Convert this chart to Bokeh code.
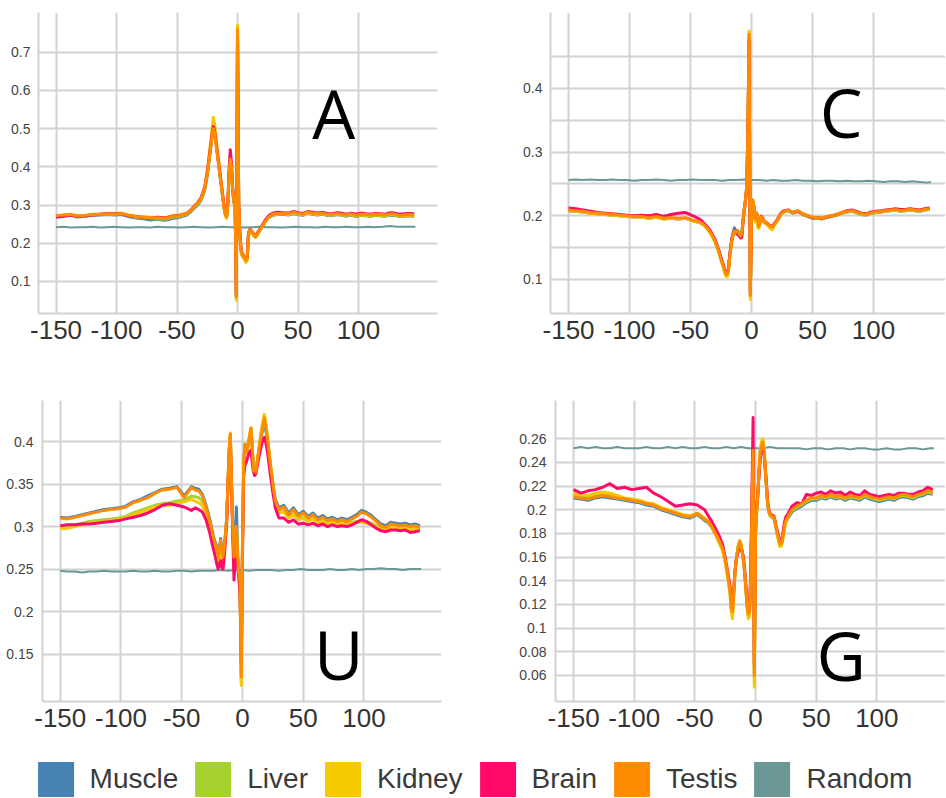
from bokeh.plotting import figure
from bokeh.layouts import column, row
from bokeh.models import FixedTicker, Label, Legend, LegendItem, Range1d
from bokeh.core.properties import value
from bokeh.embed import file_html
from bokeh.resources import INLINE

# ---------------- data ----------------
SERIES = ["Muscle", "Liver", "Kidney", "Brain", "Testis", "Random"]
COLORS = ["#4682b4", "#a6d22e", "#f5c800", "#ff0a6a", "#ff8c00", "#6b9796"]

POS_LEFT = [-150, -144, -138, -132, -126, -120, -114, -108, -102, -96, -90, -84,
            -78, -72, -66, -60, -54, -48, -42, -39, -36, -33, -30, -27]
POS_MID = list(range(-25, 26))
POS_RIGHT = [27, 30, 34, 38, 42, 46, 50, 54, 58, 62, 66, 70, 74, 78, 82, 86, 90,
             94, 98, 102, 106, 110, 114, 118, 122, 126, 130, 134, 138, 142, 146]
POS = POS_LEFT + POS_MID + POS_RIGHT
RPOS = list(range(-150, 145, 6)) + [147]

X_TICKS = [-150, -100, -50, 0, 50, 100]
X_LABELS = ["-150", "-100", "-50", "0", "50", "100"]
A_Y_TICKS = [0.1, 0.2, 0.3, 0.4, 0.5, 0.6, 0.7]
A_Y_LABELS = ["0.1", "0.2", "0.3", "0.4", "0.5", "0.6", "0.7"]
C_Y_TICKS = [0.1, 0.2, 0.3, 0.4]
C_Y_LABELS = ["0.1", "0.2", "0.3", "0.4"]
C_Y_GRID = [0.1, 0.15, 0.2, 0.25, 0.3, 0.35, 0.4, 0.45]
U_Y_TICKS = [0.15, 0.2, 0.25, 0.3, 0.35, 0.4]
U_Y_LABELS = ["0.15", "0.2", "0.25", "0.3", "0.35", "0.4"]
G_Y_TICKS = [0.06, 0.08, 0.1, 0.12, 0.14, 0.16, 0.18, 0.2, 0.22, 0.24, 0.26]
G_Y_LABELS = ["0.06", "0.08", "0.1", "0.12", "0.14", "0.16", "0.18", "0.2", "0.22", "0.24", "0.26"]

# ---- Panel A ----
A_MUSCLE = ([0.270, 0.272, 0.273, 0.269, 0.271, 0.273, 0.274, 0.275, 0.274, 0.275, 0.270, 0.266,
             0.264, 0.261, 0.263, 0.260, 0.265, 0.268, 0.274, 0.281, 0.291, 0.300, 0.313, 0.340]
            + [0.378, 0.403, 0.430, 0.455, 0.480, 0.505, 0.495, 0.470, 0.444, 0.418, 0.392, 0.366, 0.340,
               0.314, 0.290, 0.274, 0.268, 0.300, 0.378, 0.418, 0.396, 0.336, 0.306, 0.306, 0.058,
               0.760,
               0.298, 0.218, 0.178, 0.168, 0.165, 0.158, 0.153, 0.158, 0.218, 0.233, 0.232, 0.228, 0.223,
               0.218, 0.216, 0.220, 0.226, 0.231, 0.236, 0.241, 0.246, 0.251, 0.256, 0.261, 0.265]
            + [0.269, 0.274, 0.275, 0.276, 0.274, 0.277, 0.275, 0.273, 0.278, 0.276, 0.274, 0.276, 0.273,
               0.272, 0.275, 0.273, 0.271, 0.274, 0.270, 0.273, 0.272, 0.271, 0.273, 0.272, 0.271, 0.274,
               0.273, 0.270, 0.271, 0.272, 0.271])
A_LIVER = ([0.270, 0.273, 0.274, 0.270, 0.272, 0.274, 0.275, 0.276, 0.275, 0.277, 0.272, 0.268,
            0.266, 0.264, 0.265, 0.263, 0.268, 0.270, 0.276, 0.283, 0.293, 0.302, 0.315, 0.342]
           + [0.382, 0.408, 0.435, 0.460, 0.488, 0.512, 0.500, 0.475, 0.448, 0.422, 0.395, 0.368, 0.342,
              0.316, 0.290, 0.274, 0.268, 0.302, 0.380, 0.420, 0.398, 0.338, 0.308, 0.308, 0.055,
              0.765,
              0.298, 0.218, 0.178, 0.168, 0.165, 0.158, 0.153, 0.158, 0.218, 0.234, 0.233, 0.229, 0.224,
              0.219, 0.217, 0.221, 0.227, 0.232, 0.237, 0.242, 0.247, 0.252, 0.257, 0.262, 0.266]
           + [0.270, 0.275, 0.276, 0.277, 0.275, 0.279, 0.276, 0.274, 0.279, 0.277, 0.275, 0.277, 0.274,
              0.273, 0.276, 0.274, 0.272, 0.275, 0.271, 0.274, 0.273, 0.272, 0.274, 0.273, 0.272, 0.275,
              0.274, 0.271, 0.272, 0.273, 0.272])
A_KIDNEY = ([0.271, 0.274, 0.276, 0.272, 0.273, 0.276, 0.275, 0.277, 0.277, 0.279, 0.274, 0.271,
             0.270, 0.268, 0.268, 0.266, 0.272, 0.274, 0.278, 0.285, 0.295, 0.305, 0.318, 0.348]
            + [0.390, 0.415, 0.445, 0.470, 0.500, 0.530, 0.515, 0.485, 0.455, 0.430, 0.400, 0.370, 0.345,
               0.318, 0.290, 0.272, 0.265, 0.300, 0.375, 0.415, 0.395, 0.335, 0.305, 0.305, 0.050,
               0.770,
               0.295, 0.215, 0.175, 0.165, 0.162, 0.155, 0.150, 0.155, 0.215, 0.232, 0.232, 0.228, 0.222,
               0.217, 0.215, 0.220, 0.226, 0.231, 0.236, 0.242, 0.247, 0.252, 0.257, 0.262, 0.266]
            + [0.271, 0.276, 0.277, 0.278, 0.276, 0.280, 0.277, 0.275, 0.280, 0.278, 0.276, 0.278, 0.275,
               0.274, 0.277, 0.275, 0.273, 0.276, 0.272, 0.275, 0.274, 0.273, 0.275, 0.274, 0.273, 0.276,
               0.275, 0.272, 0.273, 0.274, 0.273])
A_BRAIN = ([0.268, 0.271, 0.273, 0.270, 0.272, 0.274, 0.276, 0.278, 0.277, 0.277, 0.272, 0.270,
            0.267, 0.265, 0.268, 0.266, 0.271, 0.273, 0.278, 0.286, 0.296, 0.306, 0.320, 0.348]
           + [0.385, 0.410, 0.435, 0.460, 0.485, 0.505, 0.495, 0.470, 0.445, 0.420, 0.395, 0.370, 0.345,
              0.320, 0.295, 0.280, 0.275, 0.310, 0.390, 0.445, 0.410, 0.345, 0.310, 0.310, 0.065,
              0.740,
              0.300, 0.225, 0.185, 0.172, 0.168, 0.162, 0.158, 0.162, 0.225, 0.236, 0.235, 0.231, 0.226,
              0.222, 0.220, 0.224, 0.230, 0.235, 0.240, 0.245, 0.250, 0.256, 0.261, 0.265, 0.269]
           + [0.275, 0.280, 0.281, 0.280, 0.279, 0.283, 0.280, 0.278, 0.283, 0.281, 0.279, 0.281, 0.278,
              0.277, 0.280, 0.279, 0.276, 0.279, 0.276, 0.279, 0.277, 0.276, 0.278, 0.277, 0.276, 0.280,
              0.279, 0.276, 0.277, 0.278, 0.277])
A_TESTIS = ([0.272, 0.274, 0.275, 0.271, 0.273, 0.275, 0.276, 0.277, 0.276, 0.278, 0.273, 0.270,
             0.268, 0.266, 0.267, 0.265, 0.270, 0.272, 0.278, 0.285, 0.295, 0.305, 0.318, 0.345]
            + [0.380, 0.405, 0.430, 0.455, 0.480, 0.500, 0.490, 0.465, 0.440, 0.415, 0.390, 0.365, 0.340,
               0.315, 0.290, 0.275, 0.270, 0.300, 0.380, 0.420, 0.400, 0.340, 0.310, 0.310, 0.060,
               0.760,
               0.300, 0.220, 0.180, 0.170, 0.168, 0.160, 0.155, 0.160, 0.220, 0.235, 0.234, 0.230, 0.225,
               0.220, 0.218, 0.222, 0.228, 0.233, 0.238, 0.243, 0.248, 0.253, 0.258, 0.262, 0.266]
            + [0.272, 0.277, 0.278, 0.279, 0.277, 0.281, 0.278, 0.276, 0.282, 0.279, 0.277, 0.279, 0.276,
               0.275, 0.278, 0.276, 0.274, 0.277, 0.273, 0.276, 0.275, 0.274, 0.276, 0.275, 0.274, 0.277,
               0.276, 0.273, 0.274, 0.275, 0.274])
A_RANDOM = [0.242, 0.243, 0.241, 0.242, 0.242, 0.243, 0.241, 0.242, 0.243, 0.242,
            0.241, 0.242, 0.242, 0.241, 0.243, 0.242, 0.242, 0.241, 0.242, 0.243,
            0.242, 0.241, 0.242, 0.243, 0.242, 0.242, 0.241, 0.242, 0.243, 0.242,
            0.242, 0.241, 0.242, 0.243, 0.242, 0.242, 0.241, 0.243, 0.242, 0.242,
            0.243, 0.242, 0.242, 0.243, 0.242, 0.243, 0.245, 0.243, 0.243, 0.243,
            0.243]

# ---- Panel C ----
C_MUSCLE = ([0.208, 0.207, 0.206, 0.204, 0.203, 0.202, 0.201, 0.200, 0.199, 0.198, 0.198, 0.196,
             0.198, 0.195, 0.196, 0.195, 0.196, 0.192, 0.189, 0.186, 0.180, 0.172, 0.162, 0.146]
            + [0.133, 0.127, 0.122, 0.114, 0.109, 0.109, 0.114, 0.135, 0.152, 0.166, 0.174, 0.181, 0.176,
               0.177, 0.176, 0.172, 0.169, 0.172, 0.193, 0.210, 0.224, 0.244, 0.328, 0.480, 0.075,
               0.200,
               0.223, 0.214, 0.194, 0.203, 0.199, 0.184, 0.190, 0.197, 0.195, 0.191, 0.189, 0.189, 0.187,
               0.185, 0.183, 0.182, 0.181, 0.184, 0.187, 0.189, 0.192, 0.195, 0.199, 0.202, 0.204]
            + [0.206, 0.208, 0.204, 0.207, 0.202, 0.199, 0.196, 0.196, 0.195, 0.198, 0.199, 0.201, 0.204,
               0.206, 0.207, 0.205, 0.202, 0.201, 0.204, 0.205, 0.206, 0.207, 0.208, 0.209, 0.207, 0.208,
               0.209, 0.208, 0.207, 0.209, 0.210])
C_LIVER = ([0.208, 0.207, 0.206, 0.205, 0.203, 0.202, 0.201, 0.200, 0.199, 0.199, 0.198, 0.196,
            0.198, 0.195, 0.196, 0.195, 0.196, 0.192, 0.189, 0.185, 0.179, 0.171, 0.160, 0.144]
           + [0.131, 0.125, 0.120, 0.112, 0.107, 0.106, 0.112, 0.133, 0.149, 0.162, 0.170, 0.175, 0.173,
              0.175, 0.174, 0.170, 0.168, 0.171, 0.191, 0.209, 0.223, 0.244, 0.330, 0.485, 0.072,
              0.197,
              0.222, 0.213, 0.192, 0.201, 0.190, 0.181, 0.189, 0.197, 0.195, 0.191, 0.189, 0.188, 0.186,
              0.184, 0.182, 0.180, 0.179, 0.183, 0.187, 0.189, 0.192, 0.195, 0.199, 0.202, 0.204]
           + [0.206, 0.208, 0.204, 0.207, 0.202, 0.199, 0.197, 0.196, 0.195, 0.198, 0.199, 0.201, 0.204,
              0.206, 0.207, 0.205, 0.202, 0.201, 0.204, 0.205, 0.206, 0.207, 0.208, 0.209, 0.207, 0.208,
              0.209, 0.208, 0.207, 0.209, 0.210])
C_KIDNEY = ([0.208, 0.207, 0.206, 0.204, 0.203, 0.202, 0.201, 0.200, 0.199, 0.198, 0.198, 0.196,
             0.198, 0.195, 0.196, 0.195, 0.196, 0.192, 0.189, 0.185, 0.179, 0.170, 0.159, 0.143]
            + [0.130, 0.124, 0.118, 0.110, 0.105, 0.104, 0.110, 0.131, 0.148, 0.161, 0.170, 0.175, 0.173,
               0.175, 0.174, 0.170, 0.167, 0.170, 0.190, 0.208, 0.222, 0.243, 0.330, 0.490, 0.068,
               0.195,
               0.222, 0.212, 0.190, 0.200, 0.182, 0.180, 0.188, 0.196, 0.194, 0.190, 0.188, 0.187, 0.185,
               0.183, 0.181, 0.179, 0.178, 0.182, 0.186, 0.189, 0.192, 0.195, 0.199, 0.202, 0.204]
            + [0.206, 0.209, 0.205, 0.208, 0.203, 0.200, 0.197, 0.196, 0.196, 0.199, 0.200, 0.202, 0.205,
               0.207, 0.208, 0.206, 0.203, 0.202, 0.205, 0.206, 0.207, 0.208, 0.209, 0.210, 0.208, 0.209,
               0.210, 0.209, 0.208, 0.210, 0.211])
C_BRAIN = ([0.212, 0.211, 0.209, 0.207, 0.205, 0.204, 0.203, 0.202, 0.201, 0.200, 0.201, 0.200,
            0.202, 0.199, 0.202, 0.204, 0.205, 0.200, 0.194, 0.188, 0.182, 0.174, 0.163, 0.147]
           + [0.134, 0.128, 0.123, 0.116, 0.111, 0.111, 0.116, 0.137, 0.152, 0.165, 0.172, 0.176, 0.173,
              0.172, 0.170, 0.168, 0.165, 0.166, 0.190, 0.209, 0.223, 0.243, 0.325, 0.475, 0.080,
              0.200,
              0.222, 0.212, 0.196, 0.204, 0.198, 0.185, 0.191, 0.199, 0.197, 0.193, 0.190, 0.190, 0.188,
              0.186, 0.185, 0.184, 0.183, 0.186, 0.189, 0.191, 0.194, 0.197, 0.201, 0.204, 0.206]
           + [0.208, 0.209, 0.205, 0.207, 0.203, 0.200, 0.197, 0.197, 0.196, 0.198, 0.200, 0.202, 0.205,
              0.208, 0.209, 0.207, 0.204, 0.203, 0.206, 0.207, 0.208, 0.209, 0.210, 0.211, 0.210, 0.210,
              0.211, 0.210, 0.209, 0.211, 0.212])
C_TESTIS = ([0.209, 0.208, 0.207, 0.205, 0.204, 0.203, 0.202, 0.201, 0.200, 0.199, 0.199, 0.197,
             0.199, 0.196, 0.197, 0.196, 0.197, 0.193, 0.190, 0.186, 0.180, 0.172, 0.161, 0.145]
            + [0.132, 0.126, 0.121, 0.113, 0.108, 0.108, 0.113, 0.134, 0.150, 0.163, 0.171, 0.176, 0.174,
               0.176, 0.175, 0.171, 0.168, 0.171, 0.192, 0.210, 0.224, 0.245, 0.330, 0.485, 0.075,
               0.200,
               0.225, 0.215, 0.195, 0.205, 0.200, 0.183, 0.190, 0.198, 0.196, 0.192, 0.190, 0.190, 0.188,
               0.186, 0.184, 0.183, 0.182, 0.185, 0.188, 0.190, 0.193, 0.196, 0.200, 0.203, 0.205]
            + [0.207, 0.209, 0.205, 0.208, 0.203, 0.200, 0.198, 0.197, 0.196, 0.199, 0.200, 0.202, 0.205,
               0.207, 0.208, 0.206, 0.203, 0.202, 0.205, 0.206, 0.207, 0.208, 0.209, 0.210, 0.208, 0.209,
               0.210, 0.209, 0.208, 0.210, 0.211])
C_RANDOM = [0.256, 0.257, 0.256, 0.257, 0.256, 0.256, 0.257, 0.256, 0.256, 0.255,
            0.256, 0.256, 0.257, 0.256, 0.255, 0.256, 0.256, 0.257, 0.256, 0.256,
            0.256, 0.255, 0.256, 0.256, 0.257, 0.256, 0.256, 0.255, 0.256, 0.255,
            0.255, 0.256, 0.255, 0.255, 0.254, 0.255, 0.255, 0.254, 0.255, 0.254,
            0.254, 0.255, 0.254, 0.253, 0.254, 0.254, 0.253, 0.254, 0.253, 0.252,
            0.253]

# ---- Panel U ----
U_MUSCLE = ([0.311, 0.310, 0.312, 0.314, 0.316, 0.318, 0.320, 0.321, 0.322, 0.324, 0.329, 0.332,
             0.336, 0.340, 0.344, 0.345, 0.347, 0.336, 0.347, 0.345, 0.344, 0.338, 0.325, 0.309]
            + [0.296, 0.289, 0.284, 0.280, 0.276, 0.266, 0.274, 0.286, 0.272, 0.266, 0.277, 0.292, 0.310,
               0.348, 0.388, 0.405, 0.350, 0.302, 0.268, 0.290, 0.323, 0.270, 0.248, 0.232, 0.128,
               0.280,
               0.372, 0.395, 0.386, 0.390, 0.398, 0.405, 0.412, 0.394, 0.368, 0.366, 0.365, 0.375, 0.384,
               0.394, 0.403, 0.410, 0.416, 0.420, 0.415, 0.406, 0.396, 0.384, 0.372, 0.362, 0.351]
            + [0.332, 0.322, 0.325, 0.316, 0.322, 0.314, 0.318, 0.312, 0.316, 0.310, 0.313, 0.309, 0.311,
               0.308, 0.310, 0.308, 0.311, 0.314, 0.319, 0.317, 0.313, 0.308, 0.303, 0.301, 0.305, 0.304,
               0.303, 0.304, 0.302, 0.303, 0.301])
U_LIVER = ([0.300, 0.301, 0.302, 0.304, 0.306, 0.307, 0.308, 0.309, 0.310, 0.312, 0.316, 0.319,
            0.322, 0.325, 0.327, 0.328, 0.330, 0.331, 0.336, 0.335, 0.334, 0.330, 0.318, 0.302]
           + [0.290, 0.284, 0.279, 0.274, 0.268, 0.258, 0.266, 0.278, 0.264, 0.258, 0.270, 0.288, 0.308,
              0.348, 0.390, 0.408, 0.348, 0.298, 0.255, 0.275, 0.298, 0.262, 0.243, 0.225, 0.118,
              0.275,
              0.372, 0.396, 0.386, 0.391, 0.399, 0.407, 0.415, 0.394, 0.366, 0.364, 0.363, 0.374, 0.385,
              0.396, 0.406, 0.414, 0.421, 0.428, 0.421, 0.410, 0.398, 0.385, 0.372, 0.361, 0.349]
           + [0.328, 0.317, 0.318, 0.311, 0.315, 0.309, 0.311, 0.307, 0.310, 0.305, 0.307, 0.304, 0.306,
              0.303, 0.305, 0.303, 0.305, 0.306, 0.307, 0.306, 0.304, 0.301, 0.299, 0.297, 0.300, 0.299,
              0.298, 0.299, 0.297, 0.298, 0.297])
U_KIDNEY = ([0.297, 0.298, 0.300, 0.302, 0.304, 0.305, 0.306, 0.307, 0.308, 0.310, 0.314, 0.317,
             0.320, 0.323, 0.325, 0.325, 0.327, 0.329, 0.332, 0.330, 0.328, 0.325, 0.315, 0.300]
            + [0.289, 0.283, 0.278, 0.273, 0.267, 0.256, 0.265, 0.277, 0.262, 0.256, 0.268, 0.287, 0.308,
               0.350, 0.392, 0.410, 0.350, 0.298, 0.254, 0.272, 0.295, 0.260, 0.242, 0.222, 0.113,
               0.272,
               0.370, 0.396, 0.386, 0.392, 0.400, 0.408, 0.416, 0.395, 0.366, 0.364, 0.363, 0.375, 0.386,
               0.397, 0.408, 0.417, 0.425, 0.432, 0.424, 0.412, 0.399, 0.386, 0.372, 0.361, 0.349]
            + [0.327, 0.316, 0.317, 0.310, 0.314, 0.308, 0.310, 0.306, 0.309, 0.304, 0.306, 0.303, 0.305,
               0.302, 0.304, 0.302, 0.304, 0.305, 0.305, 0.304, 0.302, 0.299, 0.297, 0.296, 0.299, 0.298,
               0.297, 0.298, 0.296, 0.297, 0.296])
U_BRAIN = ([0.301, 0.302, 0.302, 0.303, 0.303, 0.304, 0.305, 0.306, 0.307, 0.309, 0.311, 0.313,
            0.316, 0.320, 0.325, 0.327, 0.325, 0.323, 0.319, 0.322, 0.320, 0.317, 0.308, 0.293]
           + [0.280, 0.274, 0.268, 0.262, 0.255, 0.250, 0.256, 0.260, 0.252, 0.250, 0.265, 0.285, 0.305,
              0.345, 0.385, 0.400, 0.345, 0.290, 0.237, 0.260, 0.285, 0.255, 0.240, 0.220, 0.140,
              0.270,
              0.360, 0.372, 0.375, 0.380, 0.385, 0.388, 0.390, 0.375, 0.365, 0.360, 0.362, 0.370, 0.378,
              0.385, 0.392, 0.398, 0.402, 0.405, 0.400, 0.393, 0.383, 0.372, 0.360, 0.350, 0.340]
           + [0.322, 0.310, 0.310, 0.305, 0.308, 0.303, 0.304, 0.302, 0.304, 0.301, 0.303, 0.300, 0.302,
              0.300, 0.301, 0.300, 0.302, 0.305, 0.308, 0.306, 0.302, 0.298, 0.295, 0.294, 0.296, 0.296,
              0.295, 0.296, 0.293, 0.294, 0.295])
U_TESTIS = ([0.310, 0.309, 0.311, 0.313, 0.315, 0.317, 0.319, 0.320, 0.321, 0.323, 0.328, 0.331,
             0.334, 0.339, 0.343, 0.344, 0.346, 0.334, 0.346, 0.343, 0.342, 0.336, 0.323, 0.307]
            + [0.294, 0.287, 0.282, 0.278, 0.274, 0.264, 0.272, 0.284, 0.270, 0.264, 0.275, 0.291, 0.310,
               0.350, 0.390, 0.409, 0.350, 0.300, 0.264, 0.280, 0.300, 0.264, 0.245, 0.235, 0.123,
               0.280,
               0.375, 0.397, 0.387, 0.392, 0.400, 0.408, 0.416, 0.395, 0.366, 0.365, 0.364, 0.375, 0.385,
               0.395, 0.405, 0.412, 0.420, 0.428, 0.420, 0.410, 0.398, 0.385, 0.372, 0.362, 0.350]
            + [0.330, 0.320, 0.323, 0.314, 0.320, 0.312, 0.316, 0.310, 0.314, 0.308, 0.311, 0.307, 0.309,
               0.306, 0.308, 0.306, 0.309, 0.312, 0.317, 0.315, 0.311, 0.306, 0.301, 0.299, 0.303, 0.302,
               0.301, 0.302, 0.300, 0.301, 0.299])
U_RANDOM = [0.248, 0.247, 0.247, 0.246, 0.247, 0.247, 0.248, 0.247, 0.247, 0.247,
            0.248, 0.247, 0.247, 0.248, 0.247, 0.247, 0.248, 0.248, 0.247, 0.248,
            0.248, 0.248, 0.249, 0.248, 0.249, 0.249, 0.248, 0.249, 0.249, 0.249,
            0.248, 0.249, 0.249, 0.250, 0.249, 0.249, 0.249, 0.250, 0.249, 0.249,
            0.250, 0.249, 0.250, 0.250, 0.251, 0.250, 0.250, 0.249, 0.250, 0.250,
            0.250]

# ---- Panel G ----
G_MUSCLE = ([0.210, 0.209, 0.208, 0.210, 0.211, 0.210, 0.209, 0.208, 0.207, 0.206, 0.204, 0.203,
             0.200, 0.198, 0.196, 0.194, 0.193, 0.196, 0.191, 0.189, 0.185, 0.179, 0.173, 0.166]
            + [0.157, 0.151, 0.145, 0.138, 0.131, 0.117, 0.113, 0.129, 0.146, 0.157, 0.164, 0.170, 0.173,
               0.170, 0.164, 0.157, 0.147, 0.134, 0.119, 0.111, 0.112, 0.140, 0.200, 0.248, 0.065,
               0.182,
               0.201, 0.215, 0.234, 0.249, 0.253, 0.255, 0.248, 0.234, 0.219, 0.204, 0.198, 0.195, 0.194,
               0.193, 0.193, 0.189, 0.184, 0.179, 0.175, 0.170, 0.170, 0.173, 0.180, 0.186, 0.190]
            + [0.193, 0.198, 0.201, 0.203, 0.206, 0.208, 0.208, 0.210, 0.209, 0.211, 0.209, 0.210, 0.208,
               0.210, 0.209, 0.208, 0.211, 0.209, 0.208, 0.207, 0.208, 0.209, 0.208, 0.210, 0.211, 0.210,
               0.209, 0.211, 0.212, 0.214, 0.213])
G_LIVER = ([0.212, 0.211, 0.210, 0.212, 0.213, 0.212, 0.210, 0.209, 0.208, 0.207, 0.205, 0.204,
            0.201, 0.199, 0.197, 0.195, 0.194, 0.197, 0.192, 0.190, 0.186, 0.180, 0.173, 0.166]
           + [0.157, 0.151, 0.145, 0.138, 0.130, 0.116, 0.111, 0.128, 0.146, 0.157, 0.165, 0.171, 0.174,
              0.171, 0.165, 0.158, 0.148, 0.134, 0.119, 0.110, 0.111, 0.139, 0.200, 0.250, 0.055,
              0.180,
              0.199, 0.214, 0.235, 0.251, 0.256, 0.258, 0.251, 0.236, 0.220, 0.205, 0.199, 0.196, 0.195,
              0.194, 0.194, 0.190, 0.185, 0.179, 0.175, 0.170, 0.170, 0.173, 0.180, 0.186, 0.190]
           + [0.194, 0.199, 0.202, 0.204, 0.207, 0.209, 0.209, 0.211, 0.210, 0.212, 0.210, 0.211, 0.209,
              0.211, 0.210, 0.209, 0.212, 0.210, 0.209, 0.208, 0.209, 0.210, 0.209, 0.211, 0.212, 0.211,
              0.210, 0.212, 0.213, 0.215, 0.214])
G_KIDNEY = ([0.214, 0.213, 0.212, 0.214, 0.215, 0.214, 0.212, 0.210, 0.209, 0.208, 0.206, 0.205,
             0.202, 0.200, 0.198, 0.196, 0.195, 0.197, 0.193, 0.190, 0.185, 0.179, 0.172, 0.165]
            + [0.155, 0.149, 0.143, 0.136, 0.128, 0.113, 0.108, 0.125, 0.144, 0.156, 0.164, 0.171, 0.174,
               0.171, 0.165, 0.158, 0.147, 0.133, 0.118, 0.108, 0.110, 0.138, 0.200, 0.252, 0.050,
               0.178,
               0.198, 0.214, 0.236, 0.252, 0.258, 0.260, 0.252, 0.236, 0.220, 0.204, 0.198, 0.195, 0.194,
               0.193, 0.193, 0.189, 0.184, 0.178, 0.174, 0.169, 0.169, 0.172, 0.179, 0.185, 0.189]
            + [0.195, 0.200, 0.203, 0.205, 0.208, 0.210, 0.210, 0.212, 0.211, 0.213, 0.211, 0.212, 0.210,
               0.212, 0.211, 0.210, 0.213, 0.211, 0.210, 0.209, 0.210, 0.211, 0.210, 0.212, 0.213, 0.212,
               0.211, 0.213, 0.214, 0.216, 0.215])
G_BRAIN = ([0.217, 0.214, 0.216, 0.217, 0.219, 0.222, 0.218, 0.219, 0.217, 0.218, 0.219, 0.214,
            0.211, 0.207, 0.203, 0.204, 0.205, 0.204, 0.200, 0.195, 0.190, 0.184, 0.178, 0.170]
           + [0.160, 0.154, 0.148, 0.142, 0.135, 0.122, 0.118, 0.132, 0.148, 0.157, 0.162, 0.166, 0.168,
              0.166, 0.165, 0.160, 0.150, 0.137, 0.122, 0.114, 0.115, 0.145, 0.210, 0.278, 0.070,
              0.185,
              0.203, 0.215, 0.232, 0.245, 0.250, 0.251, 0.247, 0.236, 0.222, 0.207, 0.200, 0.197, 0.196,
              0.195, 0.195, 0.191, 0.186, 0.182, 0.178, 0.174, 0.173, 0.176, 0.184, 0.190, 0.194]
           + [0.197, 0.203, 0.206, 0.205, 0.213, 0.212, 0.214, 0.215, 0.213, 0.216, 0.214, 0.215, 0.212,
              0.215, 0.213, 0.212, 0.216, 0.213, 0.212, 0.211, 0.212, 0.213, 0.212, 0.214, 0.214, 0.213,
              0.213, 0.215, 0.216, 0.219, 0.217])
G_TESTIS = ([0.211, 0.210, 0.209, 0.211, 0.212, 0.211, 0.210, 0.209, 0.208, 0.207, 0.205, 0.204,
             0.201, 0.199, 0.197, 0.195, 0.194, 0.197, 0.192, 0.190, 0.186, 0.180, 0.174, 0.167]
            + [0.158, 0.152, 0.146, 0.139, 0.132, 0.118, 0.114, 0.130, 0.147, 0.157, 0.164, 0.170, 0.173,
               0.170, 0.164, 0.158, 0.148, 0.135, 0.120, 0.112, 0.113, 0.140, 0.200, 0.250, 0.060,
               0.180,
               0.200, 0.215, 0.235, 0.250, 0.254, 0.257, 0.250, 0.235, 0.220, 0.205, 0.199, 0.196, 0.195,
               0.194, 0.194, 0.190, 0.185, 0.180, 0.176, 0.171, 0.171, 0.174, 0.181, 0.187, 0.191]
            + [0.195, 0.200, 0.203, 0.205, 0.208, 0.210, 0.210, 0.212, 0.211, 0.213, 0.211, 0.212, 0.210,
               0.212, 0.211, 0.210, 0.213, 0.211, 0.210, 0.209, 0.210, 0.211, 0.210, 0.212, 0.213, 0.212,
               0.211, 0.213, 0.214, 0.216, 0.215])
G_RANDOM = [0.252, 0.253, 0.252, 0.253, 0.252, 0.252, 0.253, 0.252, 0.252, 0.252,
            0.253, 0.252, 0.252, 0.253, 0.252, 0.253, 0.252, 0.252, 0.253, 0.252,
            0.252, 0.253, 0.252, 0.253, 0.252, 0.252, 0.252, 0.253, 0.252, 0.252,
            0.252, 0.252, 0.251, 0.252, 0.252, 0.251, 0.252, 0.252, 0.251, 0.252,
            0.252, 0.251, 0.251, 0.252, 0.251, 0.251, 0.252, 0.252, 0.251, 0.252,
            0.252]

# ---------------- drawing ----------------
GRID_COLOR = "#d2d2d2"


def make_panel(letter, tissues, rand, y_ticks, y_labels, y_grid, x_rng, y_rng,
               letter_xy, size, borders, y_standoff):
    for s in tissues:
        assert len(s) == len(POS), (letter, len(s))
    assert len(rand) == len(RPOS), (letter, len(rand))
    p = figure(width=size[0], height=size[1],
               x_range=Range1d(*x_rng), y_range=Range1d(*y_rng),
               output_backend="svg", toolbar_location=None,
               min_border_left=borders[0], min_border_right=borders[1],
               min_border_top=borders[2], min_border_bottom=borders[3])
    p.outline_line_color = None
    p.background_fill_color = "white"
    p.border_fill_color = "white"

    p.xaxis.ticker = FixedTicker(ticks=X_TICKS)
    p.xaxis.major_label_overrides = {t: l for t, l in zip(X_TICKS, X_LABELS)}
    p.yaxis.ticker = FixedTicker(ticks=y_ticks)
    p.yaxis.major_label_overrides = {t: l for t, l in zip(y_ticks, y_labels)}
    p.xgrid.ticker = FixedTicker(ticks=X_TICKS)
    p.ygrid.ticker = FixedTicker(ticks=y_grid)

    for ax in (p.xaxis[0], p.yaxis[0]):
        ax.axis_line_color = GRID_COLOR
        ax.axis_line_width = 2
        ax.major_tick_line_color = None
        ax.minor_tick_line_color = None
        ax.major_tick_out = 0
        ax.major_tick_in = 0
        ax.minor_tick_out = 0
        ax.minor_tick_in = 0
    p.xaxis.major_label_text_font = "Liberation Sans"
    p.xaxis.major_label_text_font_size = "26px"
    p.xaxis.major_label_text_color = "#333333"
    p.xaxis.major_label_standoff = 7
    p.yaxis.major_label_text_font = "Liberation Sans"
    p.yaxis.major_label_text_font_size = "14px"
    p.yaxis.major_label_text_color = "#444444"
    p.yaxis.major_label_standoff = y_standoff

    for g in (p.xgrid[0], p.ygrid[0]):
        g.grid_line_color = GRID_COLOR
        g.grid_line_width = 2

    p.line(RPOS, rand, line_color=COLORS[5], line_width=2, line_join="round")
    for vals, col in zip(tissues, COLORS[:5]):
        p.line(POS, vals, line_color=col, line_width=3, line_join="round")

    p.add_layout(Label(x=letter_xy[0], y=letter_xy[1], text=letter,
                       text_font="Open Sans", text_font_size="68px",
                       text_color="black", text_align="center",
                       text_baseline="alphabetic"))
    return p


pA = make_panel("A", [A_MUSCLE, A_LIVER, A_KIDNEY, A_BRAIN, A_TESTIS], A_RANDOM,
                A_Y_TICKS, A_Y_LABELS, A_Y_TICKS, (-164.5, 165.3), (0.0162, 0.804),
                (79.5, 0.543), (468, 388), (38, 31, 12, 75), 8)
pC = make_panel("C", [C_MUSCLE, C_LIVER, C_KIDNEY, C_BRAIN, C_TESTIS], C_RANDOM,
                C_Y_TICKS, C_Y_LABELS, C_Y_GRID, (-164.8, 159.0), (0.0466, 0.519),
                (73.5, 0.364), (477, 388), (82, 0, 12, 75), 8)
pU = make_panel("U", [U_MUSCLE, U_LIVER, U_KIDNEY, U_BRAIN, U_TESTIS], U_RANDOM,
                U_Y_TICKS, U_Y_LABELS, U_Y_TICKS, (-164.6, 163.8), (0.0942, 0.4483),
                (79.3, 0.151), (468, 350), (42, 27, 12, 37), 9)
pG = make_panel("G", [G_MUSCLE, G_LIVER, G_KIDNEY, G_BRAIN, G_TESTIS], G_RANDOM,
                G_Y_TICKS, G_Y_LABELS, G_Y_TICKS, (-164.9, 156.6), (0.038, 0.2923),
                (70.6, 0.078), (477, 350), (87, 0, 12, 37), 9)

# legend strip (proxy squares lie outside the strip's visible range)
lf = figure(width=945, height=59, output_backend="svg", toolbar_location=None,
            x_axis_location=None, y_axis_location=None,
            x_range=Range1d(10, 20), y_range=Range1d(10, 20),
            min_border_left=0, min_border_right=0, min_border_top=22, min_border_bottom=0)
lf.outline_line_color = None
lf.grid.visible = False
items = []
for name, col in zip(SERIES, COLORS):
    r = lf.rect(x=[0], y=[0], width=1, height=1, fill_color=col, line_color=None)
    items.append(LegendItem(label=value(name), renderers=[r]))
leg = Legend(items=items, orientation="horizontal", location="center",
             glyph_width=45, glyph_height=44, label_height=20,
             label_standoff=12, spacing=12, padding=0, margin=0,
             border_line_color=None, background_fill_alpha=0,
             label_text_font="Liberation Sans", label_text_font_size="28px",
             label_text_color="#3a3a3a")
lf.add_layout(leg, "center")

layout = column(row(pA, pC), row(pU, pG), lf)

open("out.html", "w").write(file_html(layout, INLINE))
